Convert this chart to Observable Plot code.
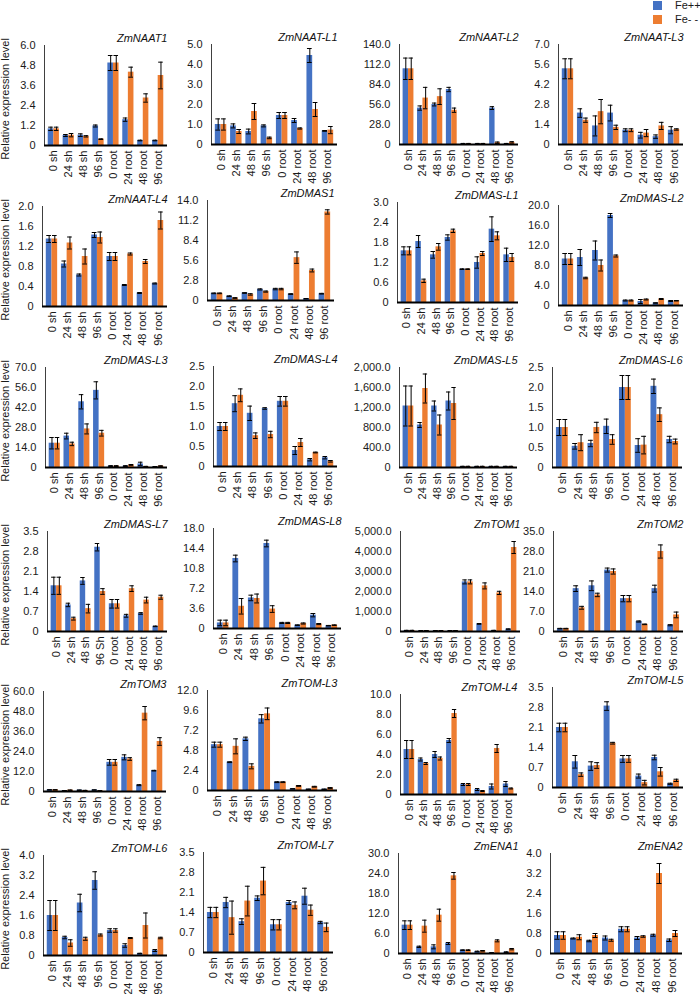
<!DOCTYPE html>
<html>
<head>
<meta charset="utf-8">
<script src="https://cdn.jsdelivr.net/npm/d3@7"></script>
<script src="https://cdn.jsdelivr.net/npm/@observablehq/plot@0.6"></script>
<style>
html,body{margin:0;padding:0;background:#fff;}
#wrap{position:relative;width:700px;height:994px;overflow:hidden;font-family:Arial,"Liberation Sans",sans-serif;color:#1a1a1a;}
.panel{position:absolute;}
.panel svg{overflow:visible;}
.ylab{position:absolute;font-size:11px;white-space:nowrap;transform:translate(-50%,-50%) rotate(-90deg);color:#1a1a1a;}
.lg{position:absolute;font-size:11px;line-height:11px;white-space:nowrap;}
.sw{position:absolute;width:9px;height:9px;}
</style>
</head>
<body>
<div id="wrap"></div>
<script>
// ---------- data ----------
const categories = ["0 sh","24 sh","48 sh","96 sh","0 root","24 root","48 root","96 root"];
const categoryLabelsL7 = ["0 sh","24 sh","48 sh","96 Sh","0 root","24 root","48 root","96 root"];
const seriesNames = ["Fe++","Fe- -"];
const genes = ["ZmNAAT1","ZmNAAT-L1","ZmNAAT-L2","ZmNAAT-L3",
  "ZmNAAT-L4","ZmDMAS1","ZmDMAS-L1","ZmDMAS-L2",
  "ZmDMAS-L3","ZmDMAS-L4","ZmDMAS-L5","ZmDMAS-L6",
  "ZmDMAS-L7","ZmDMAS-L8","ZmTOM1","ZmTOM2",
  "ZmTOM3","ZmTOM-L3","ZmTOM-L4","ZmTOM-L5",
  "ZmTOM-L6","ZmTOM-L7","ZmENA1","ZmENA2"];
const yMax = [6,5,140,7, 2,14,3,20, 70,2.5,2000,2.5, 3.5,18,5000,35, 60,12,10,3.5, 4,3.5,30,4];
const yTickCount = 5;

const feMean = [
  [1.0,0.6,0.62,1.17,4.95,1.55,0.3,0.3],
  [1.0,0.93,0.65,0.93,1.45,1.2,4.45,0.68],
  [106,51,56,77,1,1,51,1],
  [5.3,2.2,1.3,2.2,1.0,0.65,0.55,1.0],
  [1.35,0.85,0.63,1.43,1.0,0.43,0.27,0.46],
  [1.0,0.6,1.05,1.55,1.6,0.9,0.25,0.95],
  [1.55,1.83,1.43,1.95,1.0,1.2,2.2,1.43],
  [9.3,9.6,11.0,18.0,1.0,0.8,0.5,0.9],
  [17,22,46,54,1.0,1.0,2.5,0.5],
  [1.0,1.57,1.33,1.45,1.63,0.4,0.17,0.22],
  [1230,850,1230,1330,20,20,20,20],
  [1.0,0.53,0.6,1.03,2.0,0.55,2.03,0.7],
  [1.6,0.93,1.77,2.95,0.97,0.55,0.63,0.18],
  [1.0,12.6,5.5,15.3,1.0,0.6,2.4,0.5],
  [50,40,40,40,2480,380,50,120],
  [1.0,15,16,21.5,11.5,3.5,15,2.2],
  [1.0,0.5,0.8,0.9,17.5,20.5,3.8,12.5],
  [5.5,3.4,6.2,8.6,1.0,0.2,0.15,0.15],
  [4.5,3.5,4.0,5.4,1.0,0.5,0.8,1.05],
  [2.1,0.9,0.75,2.85,1.0,0.4,1.05,0.13],
  [1.6,0.72,2.1,3.0,1.0,0.4,0.08,0.2],
  [1.4,1.75,1.08,1.9,0.97,1.75,1.97,1.05],
  [8.5,2.0,2.0,3.0,1.0,0.6,0.2,0.4],
  [0.72,0.6,0.5,0.62,0.97,0.62,0.73,0.53]
];
const feErr = [
  [0.1,0.06,0.08,0.06,0.45,0.1,0.02,0.02],
  [0.28,0.1,0.12,0.05,0.15,0.1,0.35,0.02],
  [15,3,2,3,0.5,0.5,2,0.5],
  [0.7,0.3,0.7,0.55,0.1,0.2,0.12,0.25],
  [0.07,0.06,0.02,0.05,0.08,0.01,0.01,0.01],
  [0.05,0.05,0.05,0.08,0.1,0.05,0.02,0.05],
  [0.12,0.18,0.1,0.08,0.01,0.17,0.37,0.2],
  [1.1,1.6,1.9,0.4,0.1,0.4,0.05,0.1],
  [4,2,5,6,0.3,0.3,1.2,0.2],
  [0.1,0.2,0.18,0.02,0.12,0.1,0.03,0.03],
  [400,50,100,180,5,5,5,5],
  [0.2,0.07,0.08,0.18,0.3,0.17,0.18,0.08],
  [0.3,0.06,0.12,0.13,0.15,0.05,0.03,0.01],
  [0.5,0.6,0.5,0.6,0.1,0.05,0.3,0.05],
  [10,10,10,10,100,20,10,10],
  [0.1,1,1.7,0.7,1.1,0.2,1.2,0.2],
  [0.1,0.1,0.1,0.1,1.7,1.5,0.3,0.2],
  [0.3,0.05,0.2,0.5,0.05,0.02,0.02,0.02],
  [0.9,0.15,0.3,0.2,0.1,0.1,0.25,0.25],
  [0.15,0.22,0.15,0.15,0.12,0.07,0.08,0.02],
  [0.6,0.05,0.35,0.35,0.07,0.07,0.01,0.04],
  [0.18,0.18,0.1,0.08,0.18,0.07,0.28,0.04],
  [1.3,0.2,0.6,0.3,0.1,0.1,0.05,0.1],
  [0.15,0.02,0.03,0.08,0.1,0.06,0.04,0.05]
];
const defMean = [
  [1.0,0.62,0.55,0.38,4.95,4.4,2.85,4.2],
  [1.0,0.65,1.65,0.33,1.45,0.8,1.75,0.72],
  [106,65,67,48,1,1,2.5,3],
  [5.3,1.7,2.3,1.2,1.0,0.8,1.3,1.05],
  [1.35,1.27,1.0,1.38,1.0,1.05,0.9,1.72],
  [1.0,0.35,0.85,1.25,1.6,6.0,4.2,12.4],
  [1.55,0.65,1.67,2.15,1.0,1.47,2.0,1.35],
  [9.3,5.5,8.0,9.9,1.0,1.2,1.3,0.95],
  [17,16.5,27,24,1.0,1.8,0.6,1.0],
  [1.0,1.78,0.77,0.8,1.63,0.6,0.35,0.13],
  [1230,1580,850,1280,20,20,20,20],
  [1.0,0.62,1.0,0.7,2.0,0.56,1.32,0.65],
  [1.6,0.45,0.8,1.4,0.97,1.5,1.1,1.2],
  [1.0,4.0,5.4,3.5,1.0,0.9,0.8,0.6],
  [50,40,40,40,2480,2280,1930,4200],
  [1.0,8.3,12.8,21,11.5,2.5,28,5.8],
  [1.0,0.8,0.6,0.4,17.5,19.5,47,30],
  [5.5,5.3,2.9,9.2,1.0,0.55,0.45,0.3],
  [4.5,3.1,3.6,8.1,1.0,0.35,4.6,0.6],
  [2.1,0.45,0.77,1.55,1.0,0.17,0.55,0.25],
  [1.6,0.5,0.67,0.82,1.0,0.7,1.2,0.7],
  [1.4,1.22,1.8,2.5,0.97,1.65,1.48,0.88],
  [8.5,8.2,11.5,23.3,1.0,0.8,3.8,1.3],
  [0.72,0.65,0.72,0.53,0.97,0.68,3.2,0.8]
];
const defErr = [
  [0.1,0.1,0.04,0.02,0.45,0.3,0.25,0.8],
  [0.28,0.1,0.4,0.04,0.15,0.03,0.35,0.18],
  [15,15,11,3,0.5,0.5,1,1],
  [0.7,0.15,0.85,0.15,0.1,0.25,0.25,0.05],
  [0.07,0.12,0.15,0.11,0.08,0.02,0.04,0.17],
  [0.05,0.05,0.1,0.08,0.1,0.8,0.2,0.3],
  [0.12,0.05,0.1,0.05,0.01,0.06,0.12,0.12],
  [1.1,0.15,1.1,0.2,0.1,0.1,0.1,0.05],
  [4,1.2,3.5,2,0.3,0.3,0.2,0.2],
  [0.1,0.16,0.07,0.08,0.12,0.1,0.01,0.02],
  [400,290,200,320,5,5,5,5],
  [0.2,0.2,0.13,0.12,0.3,0.22,0.17,0.06],
  [0.3,0.05,0.15,0.1,0.15,0.1,0.1,0.07],
  [0.5,1.4,0.8,0.6,0.1,0.1,0.1,0.05],
  [10,10,10,10,100,150,80,300],
  [0.1,0.5,0.6,0.9,1.1,0.1,2.3,1],
  [0.1,0.1,0.1,0.1,1.7,0.8,4,2.3],
  [0.3,0.9,0.3,0.7,0.05,0.05,0.05,0.05],
  [0.9,0.1,0.15,0.4,0.1,0.05,0.4,0.05],
  [0.15,0.06,0.1,0.03,0.12,0.08,0.15,0.04],
  [0.6,0.13,0.06,0.04,0.07,0.02,0.5,0.03],
  [0.18,0.58,0.52,0.48,0.18,0.12,0.18,0.15],
  [1.3,1.8,1.8,1.0,0.1,0.1,0.3,0.2],
  [0.15,0.1,0.08,0.04,0.1,0.03,0.4,0.12]
];
const yTitle = "Relative expression level";

// ---------- layout ----------
const axisX  = [44,211,399,558, 42,207,397,558, 45,213,399,552, 47,213,400,553, 43,207,400,552, 43,203,398,550];
const rightX = [167,337,518,683, 167,334,518,683, 167,337,517,682, 167,341,520,683, 166,337,517,683, 167,333,518,682];
const topY   = [45,43.5,43.5,43.5, 205.5,199.5,201.5,205, 366.5,366,366.5,367, 531,527.5,531,531, 690.5,689.5,694,686.5, 854.5,851.5,852.5,852.5];
const rowTop = [45,205.5,366.5,531,690.5,854.5];
const H = 100, ML = 52, MR = 4, MT = 22, MB = 58;
const BLUE = "#4472C4", ORANGE = "#ED7D31";
const PAD = 0.25;

const wrap = document.getElementById("wrap");
const fmt = v => v === 0 ? "0" : d3.format(",.1f")(v);

genes.forEach((gene, g) => {
  const rows = categories.map((c, i) => ({
    cat: c, fe: feMean[g][i], feE: feErr[g][i], def: defMean[g][i], defE: defErr[g][i]
  }));
  const W = rightX[g] - axisX[g];
  const step = W / (categories.length + PAD);
  const bw = step * (1 - PAD);
  const half = bw / 2;
  const ticks = d3.range(yTickCount + 1).map(i => yMax[g] * i / yTickCount);
  const labels = gene === "ZmDMAS-L7" ? categoryLabelsL7 : categories;
  const chart = Plot.plot({
    width: ML + W + MR,
    height: MT + H + MB,
    marginLeft: ML, marginRight: MR, marginTop: MT, marginBottom: MB,
    style: {fontFamily: 'Arial, "Liberation Sans", sans-serif', fontSize: "11px", background: "transparent", color: "#1a1a1a", overflow: "visible"},
    x: {type: "band", domain: categories, padding: PAD, round: false},
    y: {domain: [0, yMax[g]]},
    marks: [
      Plot.barY(rows, {x: "cat", y: "fe", fill: BLUE, insetRight: half}),
      Plot.barY(rows, {x: "cat", y: "def", fill: ORANGE, insetLeft: half}),
      Plot.frame({anchor: "left", stroke: "#404040", strokeWidth: 1}),
      Plot.ruleY([0], {stroke: "#000", strokeWidth: 2}),
      Plot.ruleX(rows, {x: "cat", y1: d => d.fe - d.feE, y2: d => d.fe + d.feE, dx: -bw / 4, stroke: "#000", strokeWidth: 1}),
      Plot.tickY(rows, {x: "cat", y: d => d.fe + d.feE, insetLeft: 0.5, insetRight: half + 0.5, stroke: "#000", strokeWidth: 1}),
      Plot.tickY(rows, {x: "cat", y: d => d.fe - d.feE, insetLeft: 0.5, insetRight: half + 0.5, stroke: "#000", strokeWidth: 1}),
      Plot.ruleX(rows, {x: "cat", y1: d => d.def - d.defE, y2: d => d.def + d.defE, dx: bw / 4, stroke: "#000", strokeWidth: 1}),
      Plot.tickY(rows, {x: "cat", y: d => d.def + d.defE, insetLeft: half + 0.5, insetRight: 0.5, stroke: "#000", strokeWidth: 1}),
      Plot.tickY(rows, {x: "cat", y: d => d.def - d.defE, insetLeft: half + 0.5, insetRight: 0.5, stroke: "#000", strokeWidth: 1}),
      Plot.axisY(ticks, {tickSize: 0, tickPadding: 9, tickFormat: fmt, label: null, fontSize: 11}),
      Plot.axisX({tickSize: 0, tickPadding: 5, tickRotate: -90, tickFormat: d => labels[categories.indexOf(d)], label: null, fontSize: 11}),
      Plot.text([gene], {text: d => d, frameAnchor: "top-right", dy: -4, lineAnchor: "bottom", fontStyle: "italic", fontSize: 11, fill: "#111"})
    ]
  });
  const div = document.createElement("div");
  div.className = "panel";
  div.style.left = (axisX[g] - ML) + "px";
  div.style.top = (topY[g] - MT) + "px";
  div.appendChild(chart);
  wrap.appendChild(div);
});

rowTop.forEach(t => {
  const d = document.createElement("div");
  d.className = "ylab";
  d.textContent = yTitle;
  d.style.left = "5px";
  d.style.top = (t + 54) + "px";
  wrap.appendChild(d);
});

// legend
[[BLUE, 1, 0], [ORANGE, 15, 14]].forEach(([c, sy, ty], i) => {
  const s = document.createElement("div");
  s.className = "sw";
  s.style.background = c;
  s.style.left = "653px";
  s.style.top = sy + "px";
  wrap.appendChild(s);
  const t = document.createElement("div");
  t.className = "lg";
  t.textContent = seriesNames[i];
  t.style.left = "675px";
  t.style.top = ty + "px";
  wrap.appendChild(t);
});
</script>
</body>
</html>
